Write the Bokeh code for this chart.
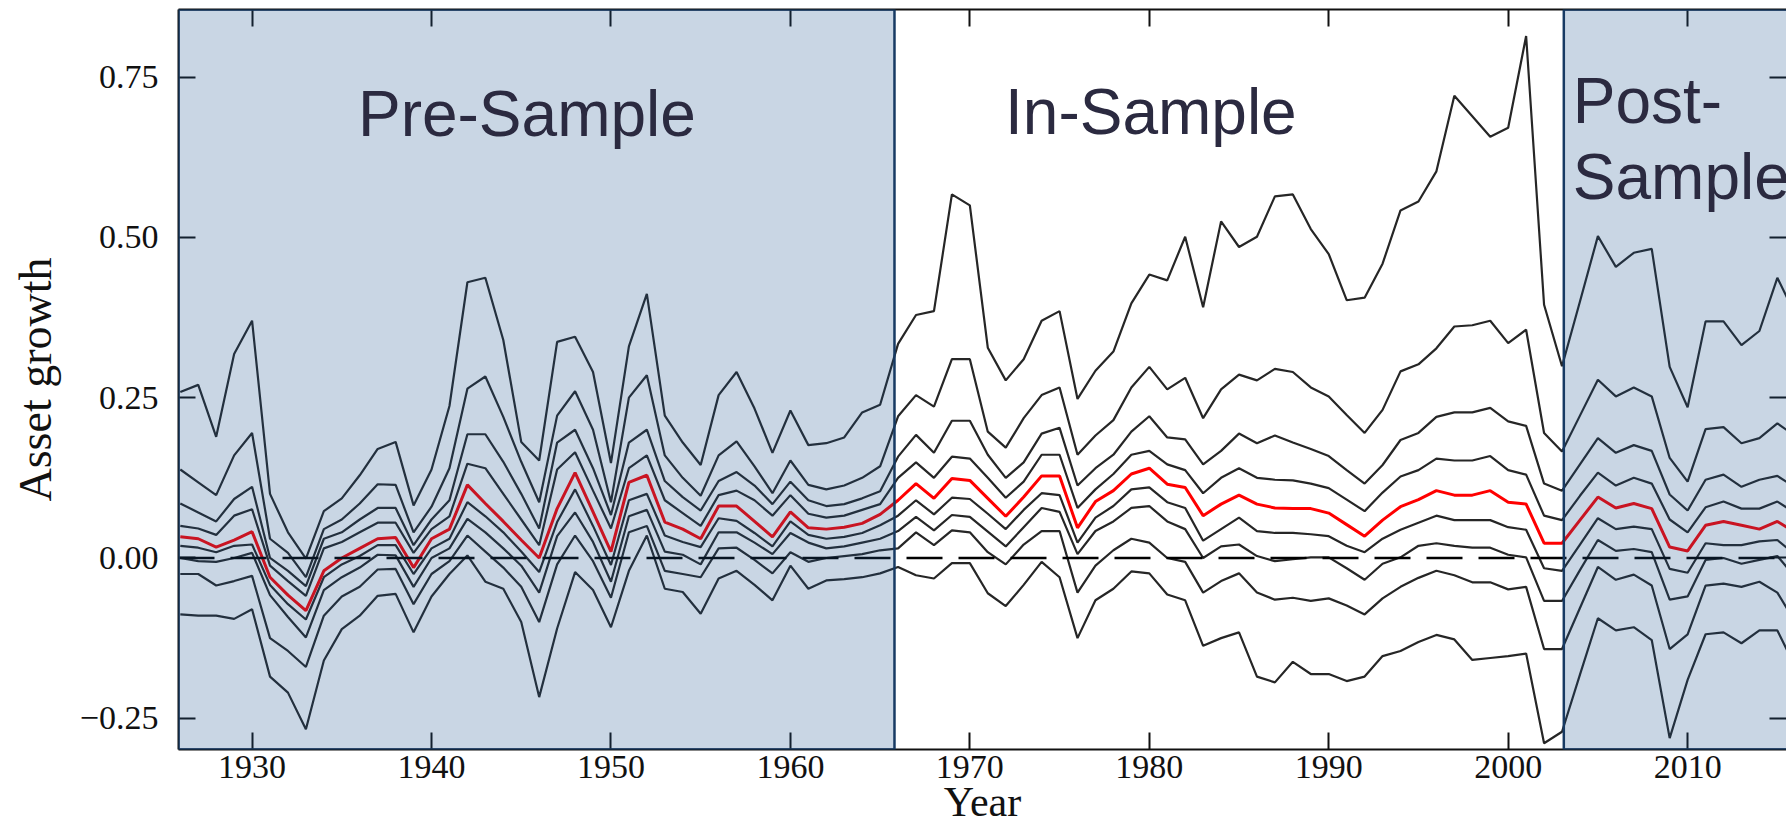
from bokeh.plotting import figure
from bokeh.models import Range1d, LinearAxis, BoxAnnotation, Span, Label, FixedTicker
from bokeh.embed import file_html
from bokeh.resources import INLINE

years = list(range(1926, 2017))

q_top = [0.259, 0.270, 0.189, 0.318, 0.370, 0.100, 0.040, -0.001, 0.073, 0.093,
         0.129, 0.170, 0.181, 0.082, 0.138, 0.237, 0.430, 0.437, 0.340, 0.181,
         0.152, 0.337, 0.345, 0.290, 0.148, 0.330, 0.412, 0.222, 0.180, 0.145,
         0.254, 0.290, 0.233, 0.164, 0.230, 0.176, 0.179, 0.188, 0.227, 0.239,
         0.334, 0.379, 0.385, 0.567, 0.550, 0.328, 0.277, 0.310, 0.370, 0.385,
         0.248, 0.292, 0.322, 0.397, 0.442, 0.433, 0.501, 0.391, 0.525, 0.485,
         0.501, 0.564, 0.567, 0.513, 0.474, 0.402, 0.406, 0.459, 0.542, 0.556,
         0.603, 0.721, 0.689, 0.657, 0.671, 0.814, 0.395, 0.299, 0.400, 0.502,
         0.454, 0.476, 0.482, 0.298, 0.235, 0.369, 0.369, 0.332, 0.354, 0.437,
         0.380]
q_2 = [0.138, 0.118, 0.098, 0.160, 0.195, 0.030, 0.008, -0.030, 0.045, 0.060,
       0.085, 0.115, 0.114, 0.040, 0.080, 0.140, 0.264, 0.283, 0.220, 0.150,
       0.087, 0.222, 0.260, 0.200, 0.087, 0.250, 0.285, 0.160, 0.125, 0.097,
       0.160, 0.182, 0.143, 0.101, 0.152, 0.114, 0.107, 0.113, 0.125, 0.143,
       0.221, 0.254, 0.236, 0.310, 0.310, 0.197, 0.172, 0.218, 0.254, 0.266,
       0.161, 0.191, 0.215, 0.266, 0.298, 0.263, 0.281, 0.218, 0.263, 0.286,
       0.277, 0.295, 0.290, 0.266, 0.252, 0.223, 0.195, 0.231, 0.291, 0.302,
       0.327, 0.361, 0.363, 0.370, 0.335, 0.356, 0.195, 0.166, 0.222, 0.278,
       0.252, 0.266, 0.252, 0.156, 0.119, 0.201, 0.204, 0.179, 0.187, 0.210,
       0.190]
q_3 = [0.085, 0.071, 0.057, 0.092, 0.111, 0.000, -0.020, -0.044, 0.030, 0.040,
       0.060, 0.078, 0.078, 0.020, 0.060, 0.090, 0.193, 0.193, 0.150, 0.100,
       0.046, 0.180, 0.200, 0.140, 0.067, 0.180, 0.200, 0.120, 0.095, 0.074,
       0.120, 0.134, 0.113, 0.084, 0.119, 0.090, 0.081, 0.084, 0.093, 0.104,
       0.158, 0.192, 0.164, 0.214, 0.214, 0.161, 0.125, 0.149, 0.194, 0.203,
       0.113, 0.140, 0.161, 0.197, 0.221, 0.188, 0.185, 0.146, 0.167, 0.194,
       0.179, 0.191, 0.180, 0.170, 0.159, 0.137, 0.116, 0.145, 0.184, 0.195,
       0.220, 0.227, 0.227, 0.234, 0.213, 0.206, 0.116, 0.105, 0.146, 0.187,
       0.164, 0.176, 0.167, 0.099, 0.074, 0.122, 0.130, 0.111, 0.122, 0.128,
       0.110]
q_4 = [0.050, 0.046, 0.036, 0.066, 0.076, -0.012, -0.036, -0.059, 0.015, 0.025,
       0.040, 0.055, 0.055, 0.008, 0.045, 0.065, 0.147, 0.140, 0.100, 0.060,
       0.020, 0.138, 0.165, 0.105, 0.046, 0.140, 0.160, 0.090, 0.070, 0.050,
       0.098, 0.105, 0.090, 0.066, 0.098, 0.069, 0.063, 0.066, 0.075, 0.084,
       0.125, 0.149, 0.125, 0.158, 0.155, 0.125, 0.094, 0.119, 0.161, 0.161,
       0.078, 0.107, 0.131, 0.161, 0.167, 0.146, 0.137, 0.101, 0.125, 0.140,
       0.125, 0.122, 0.121, 0.116, 0.109, 0.091, 0.073, 0.102, 0.127, 0.137,
       0.155, 0.152, 0.152, 0.159, 0.137, 0.130, 0.066, 0.059, 0.097, 0.133,
       0.113, 0.125, 0.116, 0.060, 0.040, 0.079, 0.088, 0.077, 0.077, 0.088,
       0.070]
median = [0.033, 0.030, 0.017, 0.028, 0.041, -0.030, -0.058, -0.082, -0.020, 0.000,
          0.015, 0.030, 0.032, -0.015, 0.030, 0.045, 0.114, 0.085, 0.057, 0.028,
          0.000, 0.077, 0.133, 0.072, 0.010, 0.118, 0.129, 0.056, 0.045, 0.030,
          0.081, 0.081, 0.057, 0.033, 0.072, 0.047, 0.045, 0.048, 0.054, 0.068,
          0.090, 0.116, 0.093, 0.124, 0.121, 0.093, 0.065, 0.095, 0.128, 0.128,
          0.047, 0.088, 0.105, 0.131, 0.140, 0.115, 0.110, 0.066, 0.084, 0.098,
          0.084, 0.078, 0.077, 0.077, 0.070, 0.052, 0.034, 0.059, 0.080, 0.091,
          0.105, 0.098, 0.098, 0.105, 0.087, 0.084, 0.023, 0.023, 0.059, 0.095,
          0.078, 0.085, 0.077, 0.017, 0.011, 0.051, 0.057, 0.051, 0.045, 0.057,
          0.040]
q_6 = [0.019, 0.016, 0.009, 0.019, 0.021, -0.042, -0.072, -0.096, -0.030, -0.010,
       0.003, 0.020, 0.020, -0.025, 0.015, 0.030, 0.087, 0.065, 0.040, 0.010,
       -0.022, 0.056, 0.107, 0.050, -0.011, 0.090, 0.100, 0.035, 0.025, 0.017,
       0.062, 0.058, 0.039, 0.018, 0.057, 0.036, 0.030, 0.033, 0.039, 0.051,
       0.066, 0.090, 0.068, 0.094, 0.092, 0.069, 0.045, 0.075, 0.101, 0.098,
       0.024, 0.063, 0.081, 0.107, 0.110, 0.087, 0.078, 0.027, 0.045, 0.063,
       0.042, 0.039, 0.039, 0.037, 0.034, 0.019, 0.009, 0.030, 0.044, 0.055,
       0.066, 0.059, 0.059, 0.059, 0.048, 0.044, -0.016, -0.020, 0.021, 0.062,
       0.045, 0.049, 0.045, -0.017, -0.023, 0.023, 0.020, 0.020, 0.026, 0.028,
       0.005]
q_7 = [0.000, -0.005, -0.006, 0.000, 0.008, -0.058, -0.092, -0.124, -0.050, -0.030,
       -0.015, 0.005, 0.004, -0.045, 0.000, 0.015, 0.061, 0.040, 0.015, -0.012,
       -0.054, 0.034, 0.071, 0.025, -0.037, 0.065, 0.075, 0.010, 0.005, -0.010,
       0.040, 0.040, 0.024, 0.006, 0.039, 0.024, 0.015, 0.018, 0.024, 0.030,
       0.042, 0.064, 0.043, 0.067, 0.064, 0.041, 0.018, 0.048, 0.078, 0.072,
       0.006, 0.042, 0.057, 0.078, 0.081, 0.057, 0.045, 0.000, 0.018, 0.021,
       0.003, -0.005, -0.002, 0.001, 0.001, -0.016, -0.034, -0.009, 0.001, 0.019,
       0.023, 0.019, 0.016, 0.016, 0.005, 0.001, -0.067, -0.067, -0.019, 0.028,
       0.011, 0.014, 0.009, -0.065, -0.060, -0.003, 0.000, -0.009, -0.003, 0.003,
       -0.030]
q_8 = [-0.025, -0.025, -0.043, -0.036, -0.028, -0.125, -0.145, -0.170, -0.090, -0.060,
       -0.045, -0.018, -0.017, -0.072, -0.025, -0.005, 0.035, 0.010, -0.015, -0.045,
       -0.100, -0.010, 0.035, -0.005, -0.062, 0.040, 0.050, -0.020, -0.025, -0.030,
       0.015, 0.016, -0.003, -0.024, 0.009, -0.006, 0.000, 0.003, 0.006, 0.012,
       0.015, 0.040, 0.020, 0.043, 0.040, 0.009, -0.010, 0.021, 0.042, 0.042,
       -0.054, -0.012, 0.012, 0.030, 0.024, 0.000, -0.006, -0.054, -0.036, -0.024,
       -0.054, -0.065, -0.062, -0.067, -0.063, -0.074, -0.088, -0.063, -0.045, -0.031,
       -0.020, -0.027, -0.038, -0.038, -0.049, -0.045, -0.142, -0.142, -0.078, -0.014,
       -0.034, -0.026, -0.043, -0.142, -0.119, -0.043, -0.040, -0.045, -0.037, -0.054,
       -0.100]
q_bottom = [-0.088, -0.090, -0.090, -0.095, -0.080, -0.185, -0.210, -0.267, -0.160, -0.111,
            -0.090, -0.059, -0.056, -0.116, -0.060, -0.025, 0.004, -0.037, -0.048, -0.100,
            -0.217, -0.110, -0.022, -0.050, -0.108, -0.020, 0.035, -0.048, -0.053, -0.087,
            -0.032, -0.020, -0.042, -0.066, -0.012, -0.048, -0.035, -0.033, -0.030, -0.024,
            -0.014, -0.027, -0.032, -0.008, -0.008, -0.055, -0.075, -0.042, -0.006, -0.030,
            -0.125, -0.066, -0.048, -0.021, -0.024, -0.057, -0.066, -0.137, -0.125, -0.116,
            -0.185, -0.194, -0.162, -0.181, -0.181, -0.192, -0.185, -0.153, -0.145, -0.131,
            -0.120, -0.127, -0.159, -0.156, -0.153, -0.149, -0.289, -0.271, -0.182, -0.094,
            -0.113, -0.108, -0.128, -0.281, -0.190, -0.119, -0.116, -0.133, -0.113, -0.113,
            -0.170]

black_series = [q_top, q_2, q_3, q_4, q_6, q_7, q_8, q_bottom]

x_ticks = [1930, 1940, 1950, 1960, 1970, 1980, 1990, 2000, 2010]
y_ticks = [-0.25, 0.0, 0.25, 0.5, 0.75]
y_tick_labels = ["\u22120.25", "0.00", "0.25", "0.50", "0.75"]

pre_sample = (1925.9, 1965.8)
post_sample = (2003.1, 2017.0)
period_labels = ["Pre-Sample", "In-Sample", "Post-", "Sample"]

X0, X1 = 1925.9, 2015.51
Y0, Y1 = -0.2987, 0.8554

p = figure(width=1786, height=829, x_range=Range1d(X0, X1), y_range=Range1d(Y0, Y1),
           output_backend="svg", toolbar_location=None,
           x_axis_location=None, y_axis_location=None,
           min_border_left=178, min_border_right=0, min_border_top=9, min_border_bottom=80,
           background_fill_color="white", border_fill_color="white")
p.grid.visible = False
p.outline_line_color = None

SERIF = "Liberation Serif"


def style_axis(ax, ticks, show_labels, line=True):
    ax.ticker = FixedTicker(ticks=ticks)
    ax.major_tick_in = 17
    ax.major_tick_out = 0
    ax.minor_tick_line_color = None
    ax.major_tick_line_width = 2
    ax.major_tick_line_color = "#111111"
    ax.axis_line_width = 2
    ax.axis_line_color = "#111111" if line else None
    if show_labels:
        ax.major_label_text_font = SERIF
        ax.major_label_text_font_size = "34px"
        ax.major_label_text_color = "#111111"
    else:
        ax.major_label_text_font_size = "0px"
        ax.major_label_text_color = None
        ax.major_label_standoff = 0


bottom = LinearAxis()
style_axis(bottom, x_ticks, True)
bottom.major_label_standoff = 6
bottom.axis_label = "Year"
bottom.axis_label_text_font = SERIF
bottom.axis_label_text_font_size = "42px"
bottom.axis_label_text_font_style = "normal"
bottom.axis_label_text_color = "#111111"
bottom.axis_label_standoff = -2
p.add_layout(bottom, "below")

top = LinearAxis()
style_axis(top, x_ticks, False)
p.add_layout(top, "above")

left = LinearAxis()
style_axis(left, y_ticks, True)
left.major_label_standoff = 20
left.major_label_overrides = {t: s for t, s in zip(y_ticks, y_tick_labels)}
left.axis_label = "Asset growth"
left.axis_label_text_font = SERIF
left.axis_label_text_font_size = "46px"
left.axis_label_text_font_style = "normal"
left.axis_label_text_color = "#111111"
left.axis_label_standoff = 16
p.add_layout(left, "left")

right = LinearAxis()
style_axis(right, y_ticks, False, line=False)
p.add_layout(right, "right")

for s in black_series:
    p.line(years, s, line_color="#262626", line_width=2.2)
p.line(years, median, line_color="#ff0000", line_width=3.0)

p.add_layout(Span(location=0, dimension="width", line_color="#000000",
                  line_dash="36 16", line_width=2.5))

for (a, b) in [pre_sample, post_sample]:
    p.add_layout(BoxAnnotation(left=a, right=b, bottom=Y0, top=Y1,
                               fill_color="#1f5590", fill_alpha=0.24,
                               line_color="#173a63", line_alpha=1.0, line_width=2.5))

label_pos = [(1935.9, 0.693), (1971.96, 0.696), (2003.6, 0.713), (2003.6, 0.594)]
for txt, (lx, ly) in zip(period_labels, label_pos):
    p.add_layout(Label(x=lx, y=ly, text=txt, text_font="Liberation Sans",
                       text_font_size="64px", text_color="#2b2a40",
                       text_align="left", text_baseline="alphabetic"))

open("out.html", "w").write(file_html(p, INLINE))
